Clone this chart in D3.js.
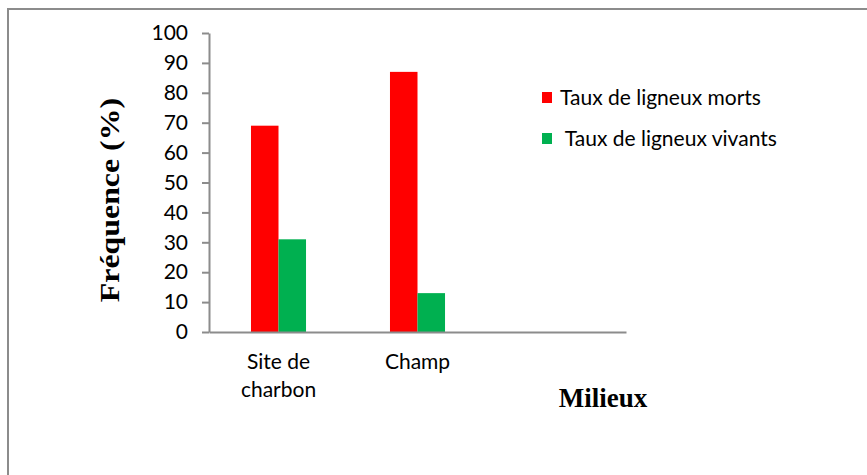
<!DOCTYPE html>
<html>
<head>
<meta charset="utf-8">
<script src="https://cdn.jsdelivr.net/npm/d3@7"></script>
<style>
  body { margin: 0; background: #fff; }
  .tick text { font-family: Lato, sans-serif; font-size: 21px; fill: #000; }
</style>
</head>
<body>
<script>
// data
var categories = ["Site de charbon", "Champ", ""];
var seriesNames = ["Taux de ligneux morts", " Taux de ligneux vivants"];
var morts = [69, 87, null];
var vivants = [31, 13, null];
var yTicks = [0, 10, 20, 30, 40, 50, 60, 70, 80, 90, 100];
var colors = ["#ff0000", "#00b050"];

var W = 867, H = 475;
var plot = {left: 209, right: 626, top: 33, bottom: 332};

var svg = d3.select("body").append("svg")
    .attr("width", W)
    .attr("height", H);

// outer frame (only left and top are visible in the picture)
svg.append("rect")
    .attr("x", 8).attr("y", 9)
    .attr("width", 900).attr("height", 500)
    .attr("fill", "none")
    .attr("stroke", "#8c8c8c")
    .attr("stroke-width", 2);

var x0 = d3.scaleBand()
    .domain(categories)
    .range([plot.left, plot.right])
    .paddingInner(0.604)
    .paddingOuter(0.302);

var x1 = d3.scaleBand()
    .domain([0, 1])
    .range([0, x0.bandwidth()]);

var y = d3.scaleLinear()
    .domain([0, 100])
    .range([plot.bottom, plot.top]);

// bars
var rows = categories.map(function(c, i) {
  return {cat: c, vals: [morts[i], vivants[i]]};
});

var groups = svg.selectAll("g.grp")
  .data(rows)
  .enter().append("g")
    .attr("class", "grp")
    .attr("transform", function(d) { return "translate(" + x0(d.cat) + ",0)"; });

groups.selectAll("rect")
  .data(function(d) { return d.vals.map(function(v, k) { return {k: k, v: v}; }).filter(function(e) { return e.v != null; }); })
  .enter().append("rect")
    .attr("x", function(d) { return x1(d.k); })
    .attr("y", function(d) { return y(d.v); })
    .attr("width", x1.bandwidth())
    .attr("height", function(d) { return y(0) - y(d.v); })
    .attr("fill", function(d) { return colors[d.k]; });

// Y axis
var yAxis = svg.append("g")
    .attr("transform", "translate(" + plot.left + ",0)")
    .call(d3.axisLeft(y).tickValues(yTicks).tickSize(7).tickSizeOuter(0).tickPadding(14));
yAxis.selectAll("path, line").attr("stroke", "#8c8c8c").attr("stroke-width", 2);

// X axis
var xAxis = svg.append("g")
    .attr("transform", "translate(0," + plot.bottom + ")")
    .call(d3.axisBottom(x0).tickSize(0).tickSizeOuter(0).tickPadding(22));
xAxis.select("path").attr("stroke", "#8c8c8c").attr("stroke-width", 2);
xAxis.selectAll(".tick text").call(wrap, 100);

function wrap(texts, width) {
  texts.each(function() {
    var text = d3.select(this),
        words = text.text().split(/\s+/).reverse(),
        word, line = [], lineNo = 0,
        yy = text.attr("y"),
        tspan = text.text(null).append("tspan").attr("x", 0).attr("y", yy).attr("dy", "0.71em");
    while ((word = words.pop()) !== undefined) {
      line.push(word);
      tspan.text(line.join(" "));
      if (tspan.node().getComputedTextLength() > width && line.length > 1) {
        line.pop();
        tspan.text(line.join(" "));
        line = [word];
        lineNo++;
        tspan = text.append("tspan").attr("x", 0).attr("y", yy)
            .attr("dy", (0.71 + lineNo * 1.35) + "em").text(word);
      }
    }
  });
}

// axis titles
svg.append("text")
    .attr("transform", "translate(119,200) rotate(-90) scale(1.18,1)")
    .attr("text-anchor", "middle")
    .style("font-family", "'Liberation Serif', 'Times New Roman', serif")
    .style("font-weight", "bold")
    .style("font-size", "27px")
    .text("Fréquence (%)");

svg.append("text")
    .attr("x", 603)
    .attr("y", 407)
    .attr("text-anchor", "middle")
    .style("font-family", "'Liberation Serif', 'Times New Roman', serif")
    .style("font-weight", "bold")
    .style("font-size", "27px")
    .text("Milieux");

// legend
var legend = svg.selectAll("g.leg")
  .data(seriesNames)
  .enter().append("g")
    .attr("class", "leg")
    .attr("transform", function(d, i) { return "translate(542," + (92 + i * 41) + ")"; });

legend.append("rect")
    .attr("width", 10)
    .attr("height", 11)
    .attr("fill", function(d, i) { return colors[i]; });

legend.append("text")
    .attr("x", 18)
    .attr("y", 13)
    .style("white-space", "pre")
    .style("font-family", "Lato, sans-serif")
    .style("font-size", "21px")
    .text(function(d) { return d; });
</script>
</body>
</html>
